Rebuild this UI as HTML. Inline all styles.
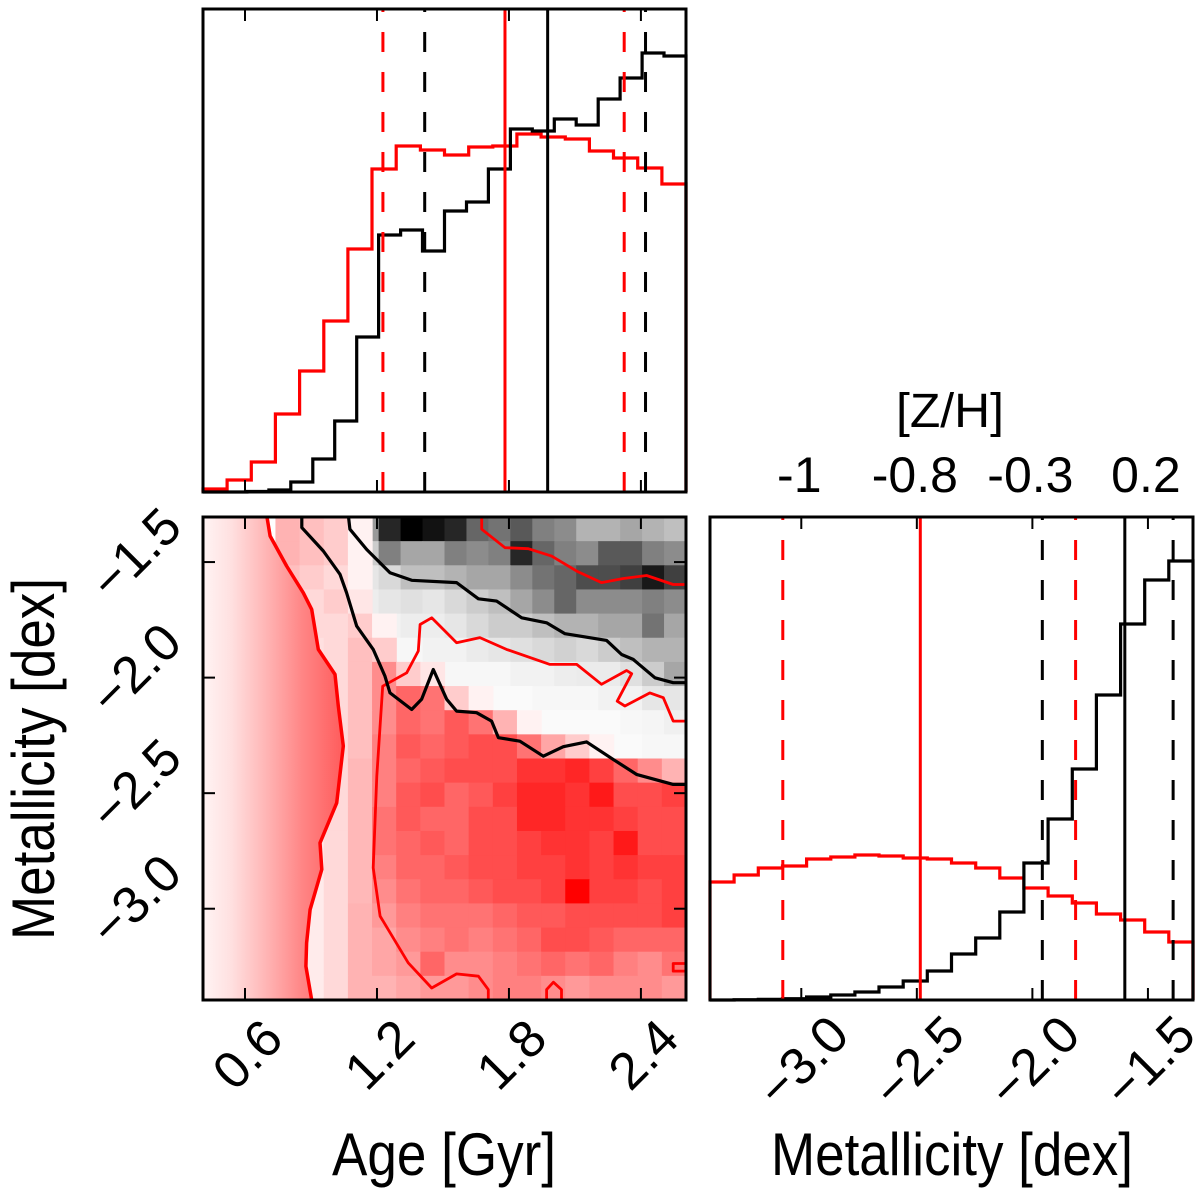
<!DOCTYPE html>
<html><head><meta charset="utf-8"><style>
html,body{margin:0;padding:0;background:#fff;}
svg{display:block;font-family:"Liberation Sans",Arial,sans-serif;}
</style></head><body>
<svg id="chart" width="1200" height="1203" viewBox="0 0 1200 1203" xmlns="http://www.w3.org/2000/svg">
<defs>
<linearGradient id="scatterGrad" gradientUnits="userSpaceOnUse" x1="203" y1="0" x2="345" y2="0">
<stop offset="0" stop-color="#fff4f4"/>
<stop offset="0.2" stop-color="#ffe0e0"/>
<stop offset="0.45" stop-color="#ffb4b4"/>
<stop offset="0.7" stop-color="#ff8585"/>
<stop offset="1" stop-color="#ff5a5a"/>
</linearGradient>
</defs>
<g id="layer"></g>
<text x="950" y="427" font-size="48" text-anchor="middle" textLength="108" lengthAdjust="spacingAndGlyphs">[Z/H]</text>
<text x="444" y="1175" font-size="60" text-anchor="middle" textLength="224" lengthAdjust="spacingAndGlyphs">Age [Gyr]</text>
<text x="952" y="1175" font-size="60" text-anchor="middle" textLength="362" lengthAdjust="spacingAndGlyphs">Metallicity [dex]</text>
<text x="0" y="0" font-size="60" text-anchor="middle" textLength="362" lengthAdjust="spacingAndGlyphs" transform="translate(54,759) rotate(-90)">Metallicity [dex]</text>
</svg>
<script>
// ---- data ----
const ageTicks=[0.6,1.2,1.8,2.4];
const ageTickLabels=["0.6","1.2","1.8","2.4"];
const metTicks=[-3.0,-2.5,-2.0,-1.5];
const metTickLabels=["\u22123.0","\u22122.5","\u22122.0","\u22121.5"];
const zhTickLabels=["-1","-0.8","-0.3","0.2"];
const ageHistRed=[3,12,30,78,121,171,243,323,346,342,337,345,346,358,355,353,341,334,324,308];
const ageHistBlack=[0,0,0.5,2,10,33,71,155,257,262,241,281,290,323,363,361,373,367,393,414,439,436];
const metHistRed=[118,125,132,134,141,143,145,144,142,141,137,132,122,112,104,97,86,80,68,58];
const metHistBlack=[0,0.3,0.7,1.3,3,5,8,13,19,29,46,62,88,137,181,231,305,376,420,439];
const ageLinesRed=[1.227,1.782,2.324];
const ageLinesBlack=[1.417,1.976,2.421];
const metLinesRed=[-3.08,-2.485,-1.813];
const metLinesBlack=[-1.957,-1.60,-1.391];
const grayGrid=[
[0,0,0,0,0.05,0.07,0.2,0.4,0.85,1.0,0.93,0.85,0.6,0.55,0.65,0.5,0.45,0.3,0.3,0.35,0.3,0.25],
[0,0,0,0,0.03,0.03,0.1,0.2,0.5,0.35,0.35,0.5,0.45,0.5,0.85,0.6,0.5,0.45,0.65,0.65,0.5,0.45],
[0,0,0,0,0,0.02,0.05,0.1,0.15,0.25,0.25,0.3,0.35,0.35,0.45,0.55,0.6,0.7,0.7,0.75,0.9,0.75],
[0,0,0,0,0,0,0.03,0.07,0.1,0.12,0.1,0.15,0.2,0.25,0.35,0.45,0.6,0.45,0.45,0.45,0.5,0.45],
[0,0,0,0,0,0,0,0.03,0.05,0.07,0.07,0.1,0.15,0.2,0.2,0.25,0.3,0.3,0.35,0.35,0.55,0.35],
[0,0,0,0,0,0,0,0.02,0.03,0.03,0.05,0.05,0.08,0.1,0.12,0.15,0.18,0.15,0.2,0.25,0.3,0.3],
[0,0,0,0,0,0,0,0,0.02,0.03,0.03,0.03,0.03,0.03,0.05,0.05,0.07,0.08,0.08,0.12,0.2,0.35],
[0,0,0,0,0,0,0,0,0,0.02,0.02,0.02,0.02,0.02,0.02,0.03,0.03,0.03,0.05,0.05,0.1,0.1],
[0,0,0,0,0,0,0,0,0,0.02,0.02,0.02,0.02,0.02,0.02,0.02,0.02,0.02,0.02,0.03,0.04,0.06],
[0,0,0,0,0,0,0,0,0,0,0,0,0.02,0.02,0.02,0.02,0.02,0.02,0.02,0.02,0.03,0.03],
[0,0,0,0,0,0,0,0,0,0,0,0,0,0,0,0.02,0.02,0.02,0.02,0.02,0.02,0.02],
[0,0,0,0,0,0,0,0,0,0,0,0,0,0,0,0,0,0,0,0,0,0],
[0,0,0,0,0,0,0,0,0,0,0,0,0,0,0,0,0,0,0,0,0,0],
[0,0,0,0,0,0,0,0,0,0,0,0,0,0,0,0,0,0,0,0,0,0],
[0,0,0,0,0,0,0,0,0,0,0,0,0,0,0,0,0,0,0,0,0,0],
[0,0,0,0,0,0,0,0,0,0,0,0,0,0,0,0,0,0,0,0,0,0],
[0,0,0,0,0,0,0,0,0,0,0,0,0,0,0,0,0,0,0,0,0,0],
[0,0,0,0,0,0,0,0,0,0,0,0,0,0,0,0,0,0,0,0,0,0],
[0,0,0,0,0,0,0,0,0,0,0,0,0,0,0,0,0,0,0,0,0,0],
[0,0,0,0,0,0,0,0,0,0,0,0,0,0,0,0,0,0,0,0,0,0]];
const redGrid=[
[0,0,0,0.3,0.25,0.2,0.05,0,0,0,0,0,0,0,0,0,0,0,0,0],
[0,0,0,0.3,0.25,0.2,0.05,0,0,0,0,0,0,0,0,0,0,0,0,0],
[0,0,0,0.25,0.2,0.15,0.05,0,0,0,0,0,0,0,0,0,0,0,0,0],
[0,0,0,0.2,0.15,0.2,0.1,0,0,0,0,0,0,0,0,0,0,0,0,0],
[0,0,0,0.15,0.15,0.15,0.2,0.05,0,0,0,0,0,0,0,0,0,0,0,0],
[0,0,0,0.12,0.12,0.15,0.25,0.2,0,0,0,0,0,0,0,0,0,0,0,0],
[0,0,0,0.1,0.1,0.15,0.25,0.45,0.2,0.1,0,0,0,0,0,0,0,0,0,0],
[0,0,0,0.1,0.1,0.15,0.25,0.45,0.6,0.55,0.2,0.05,0,0,0,0,0,0,0,0],
[0,0,0,0.1,0.1,0.15,0.25,0.45,0.6,0.55,0.65,0.55,0.3,0.05,0,0,0,0,0,0],
[0,0,0,0.1,0.1,0.15,0.25,0.5,0.65,0.6,0.65,0.7,0.7,0.55,0.35,0.2,0.05,0,0,0],
[0,0,0,0.1,0.1,0.15,0.28,0.5,0.6,0.65,0.7,0.7,0.7,0.8,0.8,0.85,0.75,0.6,0.45,0.3],
[0,0,0,0.1,0.1,0.15,0.28,0.5,0.65,0.7,0.6,0.65,0.75,0.85,0.85,0.8,0.9,0.7,0.7,0.75],
[0,0,0,0.1,0.1,0.15,0.28,0.55,0.65,0.6,0.6,0.7,0.7,0.85,0.85,0.8,0.8,0.75,0.7,0.7],
[0,0,0,0.1,0.1,0.15,0.28,0.55,0.6,0.65,0.6,0.7,0.7,0.75,0.8,0.8,0.75,0.9,0.7,0.7],
[0,0,0,0.1,0.1,0.15,0.28,0.5,0.6,0.6,0.65,0.7,0.7,0.75,0.75,0.8,0.75,0.8,0.75,0.75],
[0,0,0,0.1,0.08,0.15,0.28,0.45,0.55,0.6,0.6,0.65,0.7,0.7,0.75,1.0,0.75,0.75,0.7,0.75],
[0,0,0,0.1,0.08,0.15,0.3,0.4,0.5,0.55,0.55,0.55,0.6,0.65,0.65,0.7,0.7,0.7,0.7,0.75],
[0,0,0,0.1,0.08,0.15,0.3,0.35,0.45,0.5,0.55,0.5,0.55,0.6,0.7,0.7,0.65,0.6,0.6,0.6],
[0,0,0,0.1,0.08,0.15,0.3,0.35,0.4,0.6,0.45,0.45,0.5,0.55,0.6,0.55,0.6,0.5,0.45,0.55],
[0,0,0,0.1,0.08,0.15,0.3,0.3,0.35,0.4,0.4,0.45,0.5,0.5,0.45,0.4,0.45,0.45,0.45,0.4]];
const contourBlackOuter=[[0.858,-1.30],[0.858,-1.351],[0.956,-1.452],[1.032,-1.553],[1.062,-1.633],[1.108,-1.777],[1.183,-1.878],[1.236,-1.993],[1.259,-2.066],[1.358,-2.138],[1.403,-2.094],[1.456,-1.965],[1.517,-2.094],[1.562,-2.145],[1.653,-2.152],[1.721,-2.188],[1.752,-2.260],[1.850,-2.275],[1.956,-2.340],[2.047,-2.299],[2.153,-2.278],[2.274,-2.354],[2.380,-2.419],[2.547,-2.462],[2.605,-2.462]];
const contourBlackInner=[[1.070,-1.30],[1.077,-1.358],[1.153,-1.445],[1.259,-1.546],[1.358,-1.579],[1.562,-1.589],[1.661,-1.659],[1.744,-1.669],[1.858,-1.741],[1.971,-1.763],[2.055,-1.810],[2.244,-1.839],[2.312,-1.900],[2.365,-1.921],[2.464,-2.001],[2.547,-2.022],[2.605,-2.022]];
const contourRedTop=[[1.676,-1.30],[1.676,-1.358],[1.782,-1.438],[1.888,-1.442],[1.994,-1.474],[2.108,-1.539],[2.221,-1.589],[2.320,-1.571],[2.426,-1.558],[2.547,-1.597],[2.605,-1.597]];
const contourRedMain=[[1.706,-3.395],[1.706,-3.350],[1.661,-3.292],[1.562,-3.282],[1.449,-3.343],[1.342,-3.234],[1.214,-3.032],[1.183,-2.823],[1.199,-2.426],[1.226,-2.037],[1.335,-1.979],[1.388,-1.885],[1.396,-1.770],[1.449,-1.741],[1.562,-1.849],[1.668,-1.827],[1.789,-1.878],[1.986,-1.943],[2.108,-1.943],[2.221,-2.029],[2.335,-1.969],[2.358,-1.983],[2.292,-2.102],[2.327,-2.123],[2.441,-2.066],[2.502,-2.087],[2.547,-2.188],[2.605,-2.188]];
const contourRedBump=[[1.971,-3.395],[1.971,-3.350],[2.002,-3.318],[2.039,-3.350],[2.039,-3.395]];
const contourRedCorner=[[2.605,-3.237],[2.547,-3.237],[2.547,-3.270],[2.605,-3.270]];
const contourRedLeft=[[0.699,-1.30],[0.714,-1.387],[0.789,-1.517],[0.865,-1.633],[0.903,-1.705],[0.933,-1.878],[1.009,-1.986],[1.024,-2.123],[1.047,-2.296],[1.017,-2.542],[0.941,-2.715],[0.949,-2.830],[0.896,-3.004],[0.880,-3.148],[0.877,-3.249],[0.903,-3.395]];

// ---- scales ----
const ageMin=0.409, ageMax=2.605, metMin=-3.395, metMax=-1.305;
const TL={x0:203,x1:686,y0:9,y1:492}, BL={x0:203,x1:686,y0:517,y1:1000}, BR={x0:710,x1:1193,y0:517,y1:1000};
function xAge(a){return 203+(a-ageMin)/(ageMax-ageMin)*483;}
function yMet(m){return 1000-(m-metMin)/(metMax-metMin)*483;}
function xMet(m){return 710+(m-metMin)/(metMax-metMin)*483;}
function yTopHist(v){return TL.y1-v;}
function yBRHist(v){return BR.y1-v;}

const NS="http://www.w3.org/2000/svg";
const layer=document.getElementById('layer');
function mk(tag,attrs){const e=document.createElementNS(NS,tag);for(const k in attrs)e.setAttribute(k,attrs[k]);layer.appendChild(e);return e;}
function rgb(r,g,b){return 'rgb('+Math.round(r)+','+Math.round(g)+','+Math.round(b)+')';}

// ---- heatmaps (bottom-left) ----
const gCols=grayGrid[0].length, gRows=grayGrid.length;
for(let r=0;r<gRows;r++)for(let c=0;c<gCols;c++){
  const v=grayGrid[r][c]; if(v<=0) continue;
  const a0=ageMin+(ageMax-ageMin)*c/gCols, a1=ageMin+(ageMax-ageMin)*(c+1)/gCols;
  const m1=metMax-(metMax-metMin)*r/gRows, m0=metMax-(metMax-metMin)*(r+1)/gRows;
  const g=255*(1-v);
  const el=mk('rect',{x:xAge(a0),y:yMet(m1),width:xAge(a1)-xAge(a0)+0.6,height:yMet(m0)-yMet(m1)+0.6,fill:rgb(g,g,g)});
  
  
}
const rCols=redGrid[0].length, rRows=redGrid.length;
for(let r=0;r<rRows;r++)for(let c=0;c<rCols;c++){
  const v=redGrid[r][c]; if(v<=0) continue;
  const a0=ageMin+(ageMax-ageMin)*c/rCols, a1=ageMin+(ageMax-ageMin)*(c+1)/rCols;
  const m1=metMax-(metMax-metMin)*r/rRows, m0=metMax-(metMax-metMin)*(r+1)/rRows;
  const g=255*(1-v);
  const el=mk('rect',{x:xAge(a0),y:yMet(m1),width:xAge(a1)-xAge(a0)+0.6,height:yMet(m0)-yMet(m1)+0.6,fill:rgb(255,g,g)});
  
  
}
// scatter region (outside lowest contour)
{
  let d='M'+BL.x0+','+BL.y0;
  contourRedLeft.forEach(p=>{d+=' L'+xAge(p[0]).toFixed(1)+','+yMet(p[1]).toFixed(1);});
  d+=' L'+BL.x0+','+BL.y1+' Z';
  const el=mk('path',{d:d,fill:'url(#scatterGrad)'});
  
  
}
function contour(pts,color,w,name){
  const d=pts.map((p,i)=>(i?'L':'M')+xAge(p[0]).toFixed(1)+','+yMet(p[1]).toFixed(1)).join(' ');
  const el=mk('path',{d:d,fill:'none',stroke:color,'stroke-width':w,'stroke-linejoin':'round'});
  
  
}
contour(contourRedLeft,'#ff0000',3.5,'red-contour-outer');
contour(contourRedMain,'#ff0000',2.8,'red-contour-main');
contour(contourRedBump,'#ff0000',2.8,'red-contour-bump');
contour(contourRedCorner,'#ff0000',2.8,'red-contour-corner');
contour(contourRedTop,'#ff0000',2.8,'red-contour-inner');
contour(contourBlackOuter,'#000',3.2,'black-contour-outer');
contour(contourBlackInner,'#000',3.2,'black-contour-inner');

// ---- histograms ----
function stepPath(vals,lo,hi,xf,yf,base){
  const n=vals.length; let d='M'+xf(lo)+','+base;
  for(let i=0;i<n;i++){const x0=xf(lo+(hi-lo)*i/n), x1=xf(lo+(hi-lo)*(i+1)/n), y=yf(vals[i]);
    d+=' L'+x0.toFixed(1)+','+y.toFixed(1)+' L'+x1.toFixed(1)+','+y.toFixed(1);}
  d+=' L'+xf(hi)+','+base; return d;
}
{
  let el=mk('path',{d:stepPath(ageHistRed,ageMin,ageMax,xAge,yTopHist,TL.y1),fill:'none',stroke:'#ff0000','stroke-width':3.2});
  
  
  el=mk('path',{d:stepPath(ageHistBlack,ageMin,ageMax,xAge,yTopHist,TL.y1),fill:'none',stroke:'#000','stroke-width':3.2});
  
  
  el=mk('path',{d:stepPath(metHistRed,metMin,metMax,xMet,yBRHist,BR.y1),fill:'none',stroke:'#ff0000','stroke-width':3.2});
  
  
  el=mk('path',{d:stepPath(metHistBlack,metMin,metMax,xMet,yBRHist,BR.y1),fill:'none',stroke:'#000','stroke-width':3.2});
  
  
}
// quantile lines
function vline(x,p,color,dashed,name){
  const el=mk('line',{x1:x,x2:x,y1:p.y1,y2:p.y0,stroke:color,'stroke-width':3});
  if(dashed) el.setAttribute('stroke-dasharray','20 20');
  
  
}
ageLinesRed.forEach((v,i)=>vline(xAge(v),TL,'#ff0000',i!==1,i===1?'age-median-red':'age-quantile-red'));
ageLinesBlack.forEach((v,i)=>vline(xAge(v),TL,'#000',i!==1,i===1?'age-median-black':'age-quantile-black'));
metLinesRed.forEach((v,i)=>vline(xMet(v),BR,'#ff0000',i!==1,i===1?'metallicity-median-red':'metallicity-quantile-red'));
metLinesBlack.forEach((v,i)=>vline(xMet(v),BR,'#000',i!==1,i===1?'metallicity-median-black':'metallicity-quantile-black'));

// ---- frames & ticks ----
function frame(p,name){
  const el=mk('rect',{x:p.x0,y:p.y0,width:p.x1-p.x0,height:p.y1-p.y0,fill:'none',stroke:'#000','stroke-width':3});
  
  
}
frame(TL,'age-histogram-panel');frame(BL,'age-metallicity-panel');frame(BR,'metallicity-histogram-panel');
function tick(x1,y1,x2,y2){
  const el=mk('line',{x1:x1,y1:y1,x2:x2,y2:y2,stroke:'#000','stroke-width':2});
  
  
}
ageTicks.forEach(a=>{const x=xAge(a);
  tick(x,TL.y0,x,TL.y0+12);tick(x,TL.y1,x,TL.y1-12);
  tick(x,BL.y0,x,BL.y0+12);tick(x,BL.y1,x,BL.y1-12);});
metTicks.forEach(m=>{const y=yMet(m);tick(BL.x0,y,BL.x0+12,y);tick(BL.x1,y,BL.x1-12,y);
  const x=xMet(m);tick(x,BR.y0,x,BR.y0+12);tick(x,BR.y1,x,BR.y1-12);});
function label(txt,cx,cy,rot,size,name){
  const el=mk('text',{x:0,y:0,'font-size':size,'text-anchor':'middle','dominant-baseline':'central',transform:'translate('+cx+','+cy+') rotate('+rot+')'});
  el.textContent=txt;
  
  
}
ageTicks.forEach((a,i)=>label(ageTickLabels[i],xAge(a)+3,1055,-45,52,'age-tick-label'));
metTicks.forEach((m,i)=>label(metTickLabels[i],xMet(m)+2,1062,-45,52,'metallicity-x-tick-label'));
metTicks.forEach((m,i)=>label(metTickLabels[i],136,yMet(m)-8,-45,52,'metallicity-y-tick-label'));
metTicks.forEach((m,i)=>{
  const el=mk('text',{x:xMet(m)-2,y:492,'font-size':50,'text-anchor':'middle'});
  el.textContent=zhTickLabels[i];
  
  
});
</script>
</body></html>
